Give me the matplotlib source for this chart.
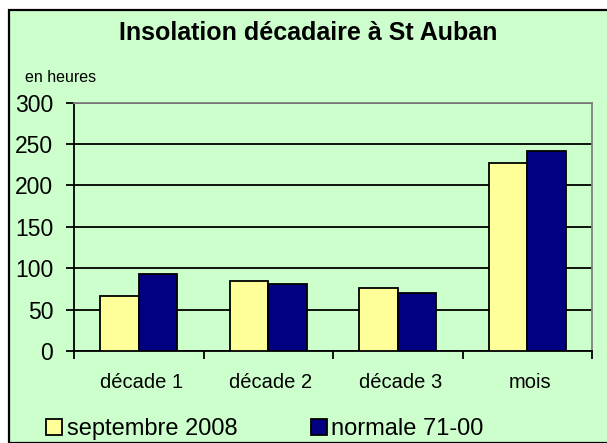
import numpy as np
import matplotlib.pyplot as plt
from matplotlib.patches import Rectangle

plt.rcParams['font.family'] = ['Liberation Sans', 'DejaVu Sans']

categories = ['décade 1', 'décade 2', 'décade 3', 'mois']
sept_2008 = [67, 84, 76, 227]
normale = [93, 81, 70, 241]
series_names = ['septembre 2008', 'normale 71-00']
yticks = [0, 50, 100, 150, 200, 250, 300]

W, H = 607, 443
fig = plt.figure(figsize=(W / 100, H / 100), dpi=100)
fig.patch.set_facecolor('white')

# green frame around the whole chart
fig.patches.append(Rectangle((9 / W, 0), 1, 1 - 10 / H, transform=fig.transFigure,
                             facecolor='#CCFFCC', edgecolor='black', lw=1.6, zorder=-10))

ax = fig.add_axes([74 / W, (H - 351) / H, (592 - 74) / W, (351 - 102.5) / H])
ax.set_facecolor('#CCFFCC')

x = np.arange(len(categories))
bw = 0.297
b1 = ax.bar(x - bw / 2, sept_2008, bw, color='#FFFF99', edgecolor='black', lw=1.3, zorder=3)
b2 = ax.bar(x + bw / 2, normale, bw, color='#000080', edgecolor='black', lw=1.3, zorder=3)

ax.set_xlim(-0.5, len(categories) - 0.5)
ax.set_ylim(0, 300)
ax.set_yticks(yticks)
ax.yaxis.grid(True, color='black', lw=1.3, zorder=1)
ax.set_axisbelow(True)

ax.set_xticks(np.arange(len(categories) + 1) - 0.5)
ax.set_xticklabels([])
ax.set_xticks(x + 0.02, minor=True)
ax.set_xticklabels(categories, minor=True, fontsize=14.5)
ax.tick_params(axis='x', which='minor', length=0, pad=16)
ax.tick_params(axis='x', which='major', length=6, width=1.3, direction='out')
ax.tick_params(axis='y', length=6, width=1.3, direction='out', pad=9, labelsize=16.5)

for s in ['left', 'bottom']:
    ax.spines[s].set_color('black')
    ax.spines[s].set_linewidth(1.3)
for s in ['top', 'right']:
    ax.spines[s].set_color('#808080')
    ax.spines[s].set_linewidth(1.3)

fig.text(308 / W, 1 - 33 / H, 'Insolation décadaire à St Auban', ha='center', va='center',
         fontsize=18, fontweight='bold')
fig.text(25 / W, 1 - 78 / H, 'en heures', ha='left', va='center', fontsize=11.5)

fig.legend([b1, b2], series_names, loc='center left', bbox_to_anchor=(46 / W, 1 - 429 / H),
           ncol=2, frameon=False, fontsize=17, handlelength=0.68, handleheight=0.68,
           handletextpad=0.2, columnspacing=3.1, borderpad=0, borderaxespad=0)

fig.savefig('out.png', dpi=100, facecolor=fig.get_facecolor())
